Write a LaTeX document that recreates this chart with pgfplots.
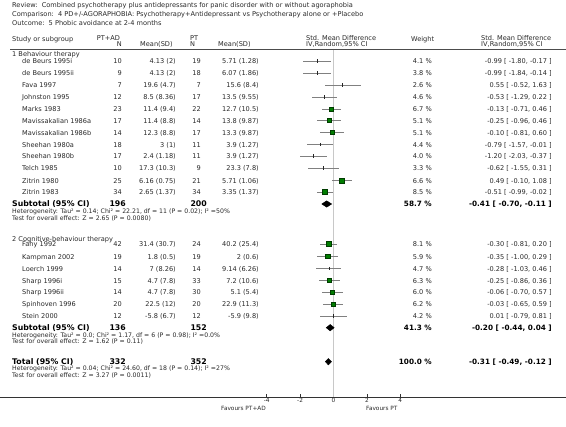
\documentclass[border=0pt]{standalone}
\usepackage{pgfplots}
\pgfplotsset{compat=1.18}
\usepackage{pgfplotstable}
\usepackage{fontspec}
\setmainfont{DejaVu Sans}
\definecolor{sqfill}{RGB}{0,125,0}
\definecolor{sqdraw}{RGB}{0,60,0}
\definecolor{cigray}{RGB}{128,128,128}
\definecolor{zerogray}{RGB}{200,200,200}
\definecolor{txt}{RGB}{40,40,40}
\newcommand{\fs}{\fontsize{6.6}{8}\selectfont}
\newcommand{\fh}{\fontsize{6.2}{7.5}\selectfont}
\newcommand{\fb}{\fontsize{7.8}{9}\selectfont\bfseries}
\newcommand{\fbv}{\fontsize{7.3}{9}\selectfont\bfseries}
\newcommand{\fa}{\fontsize{5.8}{7}\selectfont}

\pgfplotstableread{
y est lo hi w
109 -0.13 -0.71 0.46 6.7
120.5 -0.25 -0.96 0.46 5.1
132.5 -0.10 -0.81 0.60 5.1
180.5 0.49 -0.10 1.08 6.6
192 -0.51 -0.99 -0.02 8.5
244 -0.30 -0.81 0.20 8.1
256.5 -0.35 -1.00 0.29 5.9
280.5 -0.25 -0.86 0.36 6.3
292 -0.06 -0.70 0.57 6.0
304 -0.03 -0.65 0.59 6.2
}\bigw

\pgfplotstableread{
y est lo hi w
61 -0.99 -1.80 -0.17 4.1
73 -0.99 -1.84 -0.14 3.8
85 0.55 -0.52 1.63 2.6
97 -0.53 -1.29 0.22 4.6
144.5 -0.79 -1.57 -0.01 4.4
156 -1.20 -2.03 -0.37 4.0
168 -0.62 -1.55 0.31 3.3
268.5 -0.28 -1.03 0.46 4.7
316 0.01 -0.79 0.81 4.2
}\smallw

\newcommand{\srow}[8]{%
\node[t,anchor=mid west] at (22pt,-#1pt) {#2};
\node[t,anchor=mid east] at (122pt,-#1pt) {#3};
\node[t,anchor=mid east] at (176pt,-#1pt) {#4};
\node[t,anchor=mid east] at (201pt,-#1pt) {#5};
\node[t,anchor=mid east] at (259pt,-#1pt) {#6};
\node[t,anchor=mid east] at (432pt,-#1pt) {#7 \%};
\node[t,anchor=mid east] at (552pt,-#1pt) {#8};}

\newcommand{\subrow}[9]{%
\node[t,font=\fb,text=black,anchor=mid west] at (12pt,-#1pt) {#2};
\node[t,font=\fb,text=black,anchor=mid east] at (126pt,-#1pt) {#3};
\node[t,font=\fb,text=black,anchor=mid east] at (207pt,-#1pt) {#4};
\node[t,font=\fbv,text=black,anchor=mid east] at (432pt,-#1pt) {#5 \%};
\node[t,font=\fbv,text=black,anchor=mid east] at (552pt,-#1pt) {#6};
\node[t,font=\fh,anchor=mid west] at (12pt,-#7pt) {#8};
\node[t,font=\fh,anchor=mid west] at (12pt,-\the\numexpr0\relax pt+-#7pt-6.7pt) {#9};}

\begin{document}
\begin{tikzpicture}[t/.style={inner sep=0pt, text=txt, font=\fs}]
\useasboundingbox (0pt,0pt) rectangle (566pt,-427pt);
\begin{axis}[at={(0pt,0pt)}, anchor=north west, scale only axis,
  width=566pt, height=397pt,
  xmin=-19.97, xmax=13.92, ymin=-397, ymax=0,
  axis x line=bottom, axis y line=none,
  x axis line style={-, line width=0.7pt, black!80},
  xtick={-4,-2,0,2,4}, xticklabels={-4,-2,0,2,4},
  tick align=inside, major tick length=2.5pt,
  xtick style={black!80, line width=0.5pt},
  xticklabel style={font=\fa, text=txt, inner sep=0pt, yshift=-1.2pt},
  clip=false]
\addplot[zerogray, line width=0.6pt] coordinates {(0,-49) (0,-397)};
\addplot[only marks, mark=|, mark size=1.7pt, mark options={black!85, line width=0.6pt},
  error bars/.cd, x dir=both, x explicit, error mark=none,
  error bar style={cigray, line width=0.7pt}]
  table[x=est, y expr=-\thisrow{y}, x error plus expr=\thisrow{hi}-\thisrow{est},
        x error minus expr=\thisrow{est}-\thisrow{lo}] {\smallw};
\addplot[scatter, only marks, mark=square*,
  scatter/use mapped color={draw=sqdraw, fill=sqfill},
  mark options={line width=0.4pt},
  visualization depends on={0.86*sqrt(\thisrow{w}) \as \msz},
  scatter/@pre marker code/.append style={/tikz/mark size=\msz},
  error bars/.cd, x dir=both, x explicit, error mark=none,
  error bar style={cigray, line width=0.7pt}]
  table[x=est, y expr=-\thisrow{y}, x error plus expr=\thisrow{hi}-\thisrow{est},
        x error minus expr=\thisrow{est}-\thisrow{lo}] {\bigw};
\addplot[fill=black, draw=black] coordinates {(-0.70,-204) (-0.41,-200.8) (-0.11,-204) (-0.41,-207.2)} -- cycle;
\addplot[fill=black, draw=black] coordinates {(-0.44,-327.7) (-0.20,-324.5) (0.04,-327.7) (-0.20,-330.9)} -- cycle;
\addplot[fill=black, draw=black] coordinates {(-0.49,-361.7) (-0.31,-358.5) (-0.12,-361.7) (-0.31,-364.9)} -- cycle;
\end{axis}

% title block
\node[t,anchor=mid west] at (12pt,-5pt) {Review:\ \ Combined psychotherapy plus antidepressants for panic disorder with or without agoraphobia};
\node[t,anchor=mid west] at (12pt,-14pt) {Comparison:\ \ 4 PD+/-AGORAPHOBIA: Psychotherapy+Antidepressant vs Psychotherapy alone or +Placebo};
\node[t,anchor=mid west] at (12pt,-23pt) {Outcome:\ \ 5 Phobic avoidance at 2-4 months};

% header
\node[t,anchor=mid west] at (12pt,-39pt) {Study or subgroup};
\node[t,anchor=mid west] at (96.7pt,-38pt) {PT+AD};
\node[t,anchor=mid east] at (122pt,-44pt) {N};
\node[t,anchor=mid west] at (140pt,-44pt) {Mean(SD)};
\node[t,anchor=mid west] at (190pt,-38pt) {PT};
\node[t,anchor=mid west] at (190pt,-44pt) {N};
\node[t,anchor=mid west] at (218pt,-44pt) {Mean(SD)};
\node[t,anchor=mid west] at (306pt,-37.5pt) {Std. Mean Difference};
\node[t,anchor=mid west] at (306pt,-43.8pt) {IV,Random,95\% CI};
\node[t,anchor=mid west] at (411pt,-39pt) {Weight};
\node[t,anchor=mid west] at (481pt,-37.5pt) {Std. Mean Difference};
\node[t,anchor=mid west] at (481pt,-43.8pt) {IV,Random,95\% CI};
\draw[black!70, line width=0.8pt] (10pt,-49pt) -- (566pt,-49pt);

% group 1
\node[t,anchor=mid west] at (12pt,-53.5pt) {1 Behaviour therapy};
\srow{61}{de Beurs 1995i}{10}{4.13 (2)}{19}{5.71 (1.28)}{4.1}{-0.99 [ -1.80, -0.17 ]}
\srow{73}{de Beurs 1995ii}{9}{4.13 (2)}{18}{6.07 (1.86)}{3.8}{-0.99 [ -1.84, -0.14 ]}
\srow{85}{Fava 1997}{7}{19.6 (4.7)}{7}{15.6 (8.4)}{2.6}{0.55 [ -0.52, 1.63 ]}
\srow{97}{Johnston 1995}{12}{8.5 (8.36)}{17}{13.5 (9.55)}{4.6}{-0.53 [ -1.29, 0.22 ]}
\srow{109}{Marks 1983}{23}{11.4 (9.4)}{22}{12.7 (10.5)}{6.7}{-0.13 [ -0.71, 0.46 ]}
\srow{120.5}{Mavissakalian 1986a}{17}{11.4 (8.8)}{14}{13.8 (9.87)}{5.1}{-0.25 [ -0.96, 0.46 ]}
\srow{132.5}{Mavissakalian 1986b}{14}{12.3 (8.8)}{17}{13.3 (9.87)}{5.1}{-0.10 [ -0.81, 0.60 ]}
\srow{144.5}{Sheehan 1980a}{18}{3 (1)}{11}{3.9 (1.27)}{4.4}{-0.79 [ -1.57, -0.01 ]}
\srow{156}{Sheehan 1980b}{17}{2.4 (1.18)}{11}{3.9 (1.27)}{4.0}{-1.20 [ -2.03, -0.37 ]}
\srow{168}{Telch 1985}{10}{17.3 (10.3)}{9}{23.3 (7.8)}{3.3}{-0.62 [ -1.55, 0.31 ]}
\srow{180.5}{Zitrin 1980}{25}{6.16 (0.75)}{21}{5.71 (1.06)}{6.6}{0.49 [ -0.10, 1.08 ]}
\srow{192}{Zitrin 1983}{34}{2.65 (1.37)}{34}{3.35 (1.37)}{8.5}{-0.51 [ -0.99, -0.02 ]}
\node[t,font=\fb,text=black,anchor=mid west] at (12pt,-204pt) {Subtotal (95\% CI)};
\node[t,font=\fb,text=black,anchor=mid east] at (126pt,-204pt) {196};
\node[t,font=\fb,text=black,anchor=mid east] at (207pt,-204pt) {200};
\node[t,font=\fbv,text=black,anchor=mid east] at (432pt,-204pt) {58.7 \%};
\node[t,font=\fbv,text=black,anchor=mid east] at (552pt,-204pt) {-0.41 [ -0.70, -0.11 ]};
\node[t,font=\fh,anchor=mid west] at (12pt,-210.8pt) {Heterogeneity: Tau² = 0.14; Chi² = 22.21, df = 11 (P = 0.02); I² =50\%};
\node[t,font=\fh,anchor=mid west] at (12pt,-217.5pt) {Test for overall effect: Z = 2.65 (P = 0.0080)};

% group 2
\node[t,anchor=mid west] at (12pt,-238.3pt) {2 Cognitive-behaviour therapy};
\srow{244}{Fahy 1992}{42}{31.4 (30.7)}{24}{40.2 (25.4)}{8.1}{-0.30 [ -0.81, 0.20 ]}
\srow{256.5}{Kampman 2002}{19}{1.8 (0.5)}{19}{2 (0.6)}{5.9}{-0.35 [ -1.00, 0.29 ]}
\srow{268.5}{Loerch 1999}{14}{7 (8.26)}{14}{9.14 (6.26)}{4.7}{-0.28 [ -1.03, 0.46 ]}
\srow{280.5}{Sharp 1996i}{15}{4.7 (7.8)}{33}{7.2 (10.6)}{6.3}{-0.25 [ -0.86, 0.36 ]}
\srow{292}{Sharp 1996ii}{14}{4.7 (7.8)}{30}{5.1 (5.4)}{6.0}{-0.06 [ -0.70, 0.57 ]}
\srow{304}{Spinhoven 1996}{20}{22.5 (12)}{20}{22.9 (11.3)}{6.2}{-0.03 [ -0.65, 0.59 ]}
\srow{316}{Stein 2000}{12}{-5.8 (6.7)}{12}{-5.9 (9.8)}{4.2}{0.01 [ -0.79, 0.81 ]}
\node[t,font=\fb,text=black,anchor=mid west] at (12pt,-327.7pt) {Subtotal (95\% CI)};
\node[t,font=\fb,text=black,anchor=mid east] at (126pt,-327.7pt) {136};
\node[t,font=\fb,text=black,anchor=mid east] at (207pt,-327.7pt) {152};
\node[t,font=\fbv,text=black,anchor=mid east] at (432pt,-327.7pt) {41.3 \%};
\node[t,font=\fbv,text=black,anchor=mid east] at (552pt,-327.7pt) {-0.20 [ -0.44, 0.04 ]};
\node[t,font=\fh,anchor=mid west] at (12pt,-334.5pt) {Heterogeneity: Tau² = 0.0; Chi² = 1.17, df = 6 (P = 0.98); I² =0.0\%};
\node[t,font=\fh,anchor=mid west] at (12pt,-341pt) {Test for overall effect: Z = 1.62 (P = 0.11)};

% total
\node[t,font=\fb,text=black,anchor=mid west] at (12pt,-361.7pt) {Total (95\% CI)};
\node[t,font=\fb,text=black,anchor=mid east] at (126pt,-361.7pt) {332};
\node[t,font=\fb,text=black,anchor=mid east] at (207pt,-361.7pt) {352};
\node[t,font=\fbv,text=black,anchor=mid east] at (432pt,-361.7pt) {100.0 \%};
\node[t,font=\fbv,text=black,anchor=mid east] at (552pt,-361.7pt) {-0.31 [ -0.49, -0.12 ]};
\node[t,font=\fh,anchor=mid west] at (12pt,-368pt) {Heterogeneity: Tau² = 0.04; Chi² = 24.60, df = 18 (P = 0.14); I² =27\%};
\node[t,font=\fh,anchor=mid west] at (12pt,-374.5pt) {Test for overall effect: Z = 3.27 (P = 0.0011)};

% favours labels
\node[t,font=\fa,anchor=mid east] at (266pt,-407.5pt) {Favours PT+AD};
\node[t,font=\fa,anchor=mid west] at (366pt,-407.5pt) {Favours PT};
\end{tikzpicture}
\end{document}
